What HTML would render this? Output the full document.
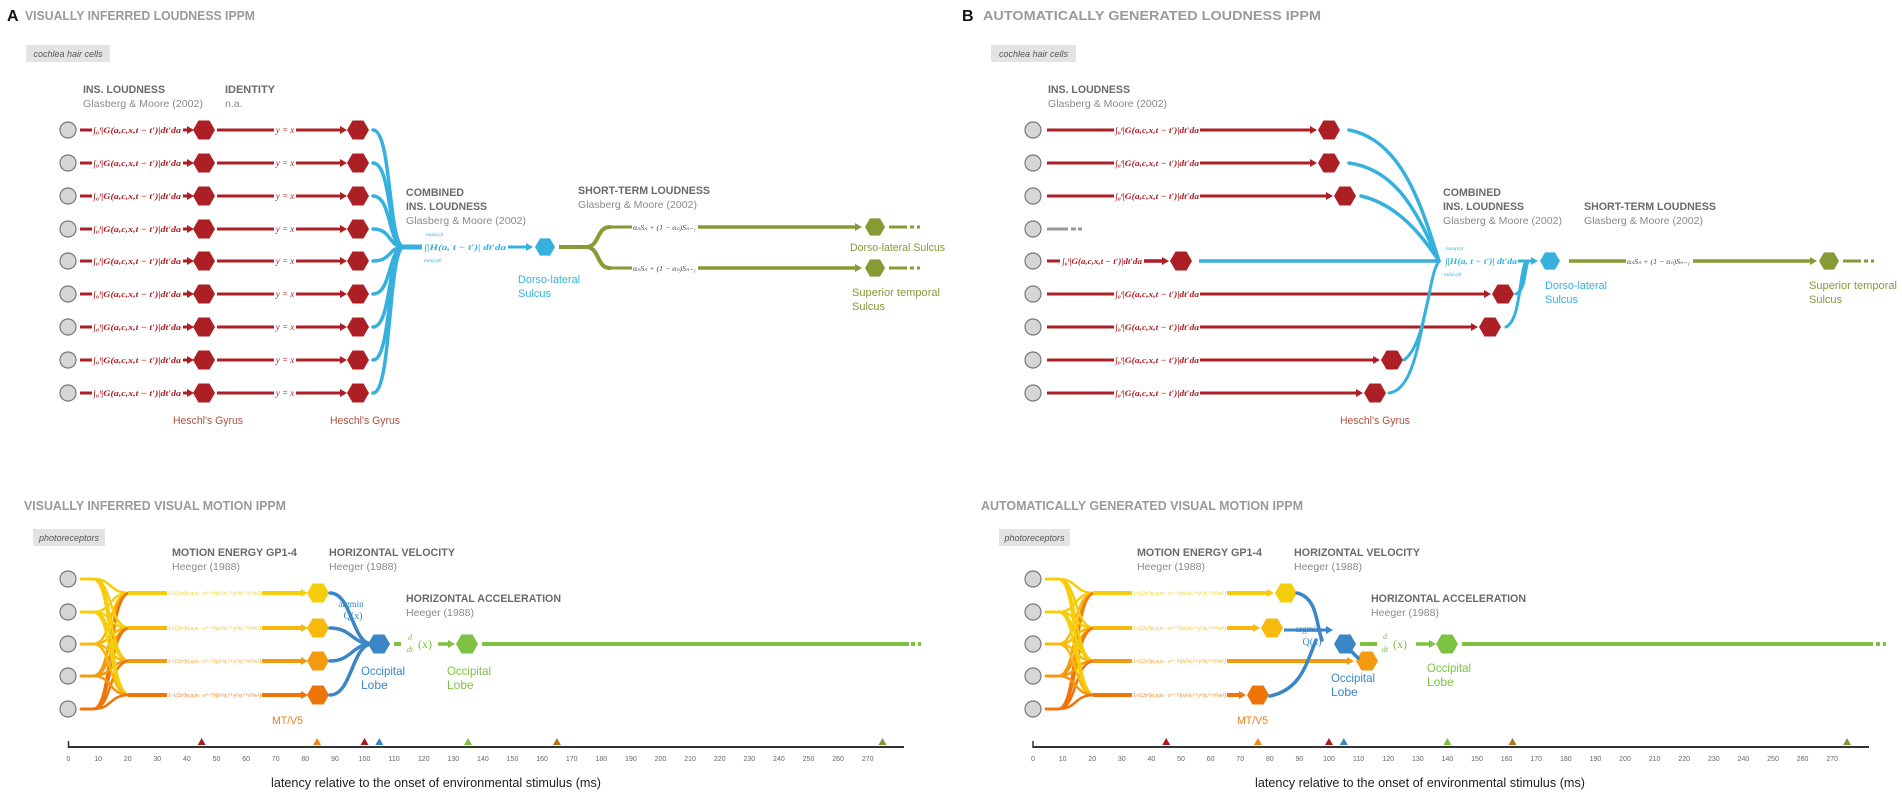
<!DOCTYPE html>
<html><head><meta charset="utf-8">
<style>
html,body{margin:0;padding:0;background:#fff;}
svg{display:block;font-family:"Liberation Sans",sans-serif;}
</style></head>
<body>
<svg id="fig" width="1902" height="797" viewBox="0 0 1902 797" xmlns="http://www.w3.org/2000/svg"></svg>
<script>
// ---- Axis data (latencies in ms) ----
const tickLabels = [0,10,20,30,40,50,60,70,80,90,100,110,120,130,140,150,160,170,180,190,200,210,220,230,240,250,260,270];
const markerLatA = [45,84,100,105,135,165,275];
const markerLatB = [45,76,100,105,140,162,275];
const markerColors = ['#a31f24','#f0861c','#a31f24','#3a86c6','#7dc242','#b5761f','#7f9a3a'];

const NS='http://www.w3.org/2000/svg';
const svg=document.getElementById('fig');
function el(tag,attrs,parent){const e=document.createElementNS(NS,tag);for(const k in attrs)e.setAttribute(k,attrs[k]);(parent||svg).appendChild(e);return e;}
function txt(x,y,s,size,color,opts,name){opts=opts||{};
  const t=el('text',{x:x,y:y,'font-size':size,fill:color});
  if(opts.bold)t.setAttribute('font-weight','bold');
  if(opts.italic)t.setAttribute('font-style','italic');
  if(opts.serif)t.setAttribute('font-family','"Liberation Serif",serif');
  if(opts.anchor)t.setAttribute('text-anchor',opts.anchor);
  if(opts.len){t.setAttribute('textLength',opts.len);t.setAttribute('lengthAdjust','spacingAndGlyphs');}
  t.textContent=s;
  
  
  return t;}
function hex(x,y,r,c,name){const h=r*0.86;
  const p=el('polygon',{points:[[x-r,y],[x-r/2,y-h],[x+r/2,y-h],[x+r,y],[x+r/2,y+h],[x-r/2,y+h]].map(a=>a.join(',')).join(' '),fill:c});
  
  
  return p;}
function line(x1,x2,y,c,w,name){const l=el('line',{x1:x1,y1:y,x2:x2,y2:y,stroke:c,'stroke-width':w||3});
  
  return l;}
function arrow(x1,x2,y,c,w,name){line(x1,x2-6,y,c,w,name);
  const a=el('polygon',{points:`${x2-7},${y-4} ${x2},${y} ${x2-7},${y+4}`,fill:c});
  
  }
function path(d,c,w,name){const p=el('path',{d:d,stroke:c,'stroke-width':w,fill:'none','stroke-linecap':'round'});
  
  return p;}
function circ(x,y,name){const c=el('circle',{cx:x,cy:y,r:8,fill:'#d6d6d6',stroke:'#777','stroke-width':1.2});
  
  }
function box(x,y,w,h,s){const r=el('rect',{x:x,y:y,width:w,height:h,fill:'#e3e3e3'});
  
  
  txt(x+w/2,y+12,s,9,'#555',{italic:true,anchor:'middle'},'source-label');}
function dashEnd(x,y,c,w){line(x,x+18,y,c,w,'continuation-dash');line(x+21,x+25,y,c,w,'continuation-dash');line(x+28,x+31,y,c,w,'continuation-dash');}
const RED='#ac2025',BLUEL='#36b1de',OLIVE='#869a36',BLUEM='#3a86c6',GREEN='#7dc242';
const YC=['#f5cd0a','#f6b90c','#f39a10','#ef7508'];
const FORM='∫₀ᵗ|G(a,c,x,t − t′)|dt′da';

// ---------- Titles ----------
txt(7,21,'A',16,'#111',{bold:true},'panel-a-letter');
txt(25,20,'VISUALLY INFERRED LOUDNESS IPPM',13,'#9a9a9a',{bold:true,len:230},'panel-a-top-title');
txt(962,21,'B',16,'#111',{bold:true},'panel-b-letter');
txt(983,20,'AUTOMATICALLY GENERATED LOUDNESS IPPM',13,'#9a9a9a',{bold:true,len:338},'panel-b-top-title');
txt(24,510,'VISUALLY INFERRED VISUAL MOTION IPPM',13,'#9a9a9a',{bold:true,len:262},'panel-a-bottom-title');
txt(981,510,'AUTOMATICALLY GENERATED VISUAL MOTION IPPM',13,'#9a9a9a',{bold:true,len:322},'panel-b-bottom-title');
box(26,45,84,17,'cochlea hair cells');
box(991,45,85,17,'cochlea hair cells');
box(33,529,72,17,'photoreceptors');
box(999,529,71,17,'photoreceptors');

function header(x,y,lines,boldLen,subLen){
  lines.forEach((s,i)=>{const last=i===lines.length-1;
    txt(x,y+i*14,s,last?10.5:11,last?'#8a8a8a':'#6a6a6a',{bold:!last,len:last?subLen:boldLen[i]},'stage-header');});}

// ---------- Panel A loudness ----------
const rows=[130,163,196,229,261,294,327,360,393];
header(83,93,['INS. LOUDNESS','Glasberg & Moore (2002)'],[82],120);
header(225,93,['IDENTITY','n.a.'],[50],null);
header(406,196,['COMBINED','INS. LOUDNESS','Glasberg & Moore (2002)'],[58,81],120);
header(578,194,['SHORT-TERM LOUDNESS','Glasberg & Moore (2002)'],[132],119);
rows.forEach(y=>{
  circ(68,y);
  line(80,92,y,RED,3);
  txt(93,y+3,FORM,8.5,RED,{italic:true,bold:true,serif:true,len:88},'loudness-formula');
  arrow(183,194,y,RED,3);
  hex(204,y,11,RED,'heschl-node');
  line(217,274,y,RED,3);
  txt(285,y+3,'y = x',9,RED,{italic:true,serif:true,anchor:'middle'},'identity-formula');
  arrow(296,347,y,RED,3);
  hex(358,y,11,RED,'heschl-node');
  path(`M373,${y} C392,${y} 388,247 404,247`,BLUEL,3.5,'combine-curve');
});
line(400,422,247,BLUEL,5);
txt(424,250,'∫|H(a, t − t′)| dt′da',8.5,BLUEL,{italic:true,bold:true,serif:true,len:82},'combined-formula');
txt(426,236,'max(a)τ',5.5,BLUEL,{italic:true,serif:true},'bound');
txt(424,262,'min(a)0',5.5,BLUEL,{italic:true,serif:true},'bound');
arrow(508,533,247,BLUEL,3);
hex(545,247,10,BLUEL,'dorsolateral-node');
txt(518,283,'Dorso-lateral',11,BLUEL,{len:62},'region-label');
txt(518,297,'Sulcus',11,BLUEL,{},'region-label');
line(559,588,247,OLIVE,4);
path('M586,247 C600,247 596,227 610,227','#869a36',4);
path('M586,247 C600,247 596,268 610,268','#869a36',4);
[227,268].forEach(y=>{line(608,632,y,OLIVE,3);
  txt(633,y+3,'αₙSₙ + (1 − αₙ)Sₙ₋₁',7.5,'#444',{italic:true,serif:true,len:63},'short-term-formula');
  arrow(698,862,y,OLIVE,3.5);hex(875,y,10,OLIVE,'short-term-node');dashEnd(889,y,OLIVE,3);});
txt(850,251,'Dorso-lateral Sulcus',11,OLIVE,{len:95},'region-label');
txt(852,296,'Superior temporal',11,OLIVE,{len:88},'region-label');
txt(852,310,'Sulcus',11,OLIVE,{},'region-label');
txt(173,424,"Heschl's Gyrus",11,'#b0503c',{len:70},'region-label');
txt(330,424,"Heschl's Gyrus",11,'#b0503c',{len:70},'region-label');

// ---------- Panel B loudness ----------
header(1048,93,['INS. LOUDNESS','Glasberg & Moore (2002)'],[82],119);
header(1443,196,['COMBINED','INS. LOUDNESS','Glasberg & Moore (2002)'],[58,81],119);
header(1584,210,['SHORT-TERM LOUDNESS','Glasberg & Moore (2002)'],[132],119);
const hexB=[1329,1329,1345,null,1181,1503,1490,1392,1375];
rows.forEach((y,i)=>{
  circ(1033,y);
  if(i===3){line(1047,1068,y,'#999',3,'gray-dash');line(1071,1076,y,'#999',3,'gray-dash');line(1078,1082,y,'#999',3,'gray-dash');return;}
  const hx=hexB[i];
  if(i===4){line(1047,1060,y,RED,3);
    txt(1062,y+3,FORM,8.5,RED,{italic:true,bold:true,serif:true,len:80},'loudness-formula');
    arrow(1144,1169,y,RED,3.5);}
  else{line(1047,1114,y,RED,3);
    txt(1115,y+3,FORM,8.5,RED,{italic:true,bold:true,serif:true,len:84},'loudness-formula');
    arrow(1200,hx-12,y,RED,3);}
  hex(hx,y,11,RED,'heschl-node');
});
path('M1349,130 C1400,140 1420,200 1439,261',BLUEL,3.5);
path('M1349,163 C1400,170 1420,220 1439,261',BLUEL,3.5);
path('M1361,196 C1400,205 1425,240 1439,261',BLUEL,3.5);
line(1199,1440,261,BLUEL,3.5);
path('M1389,393 C1415,390 1420,330 1428,300 C1432,280 1434,268 1439,261',BLUEL,3);
path('M1404,360 C1418,350 1424,320 1430,290',BLUEL,3);
path('M1506,327 C1520,320 1519,280 1525,263',BLUEL,3);
path('M1516,294 C1526,290 1524,270 1528,262',BLUEL,3);
txt(1445,264,'∫|H(a, t − t′)| dt′da',8.5,BLUEL,{italic:true,bold:true,serif:true,len:72},'combined-formula');
txt(1446,250,'max(a)τ',5.5,BLUEL,{italic:true,serif:true},'bound');
txt(1444,276,'min(a)0',5.5,BLUEL,{italic:true,serif:true},'bound');
arrow(1518,1538,261,BLUEL,3);
hex(1550,261,10,BLUEL,'dorsolateral-node');
txt(1545,289,'Dorso-lateral',11,BLUEL,{len:62},'region-label');
txt(1545,303,'Sulcus',11,BLUEL,{},'region-label');
line(1569,1626,261,OLIVE,3.5);
txt(1627,264,'αₙSₙ + (1 − αₙ)Sₙ₋₁',7.5,'#444',{italic:true,serif:true,len:63},'short-term-formula');
arrow(1693,1817,261,OLIVE,3.5);
hex(1829,261,10,OLIVE,'short-term-node');
dashEnd(1843,261,OLIVE,3);
txt(1809,289,'Superior temporal',11,OLIVE,{len:88},'region-label');
txt(1809,303,'Sulcus',11,OLIVE,{},'region-label');
txt(1340,424,"Heschl's Gyrus",11,'#b0503c',{len:70},'region-label');

// ---------- Motion panels ----------
const inY=[579,612,644,676,709], outY=[593,628,661,695];
function motion(ox,hexX,opts){
  header(ox+104,556,['MOTION ENERGY GP1-4','Heeger (1988)'],[125],68);
  header(ox+261,556,['HORIZONTAL VELOCITY','Heeger (1988)'],[126],68);
  header(ox+338,602,['HORIZONTAL ACCELERATION','Heeger (1988)'],[155],68);
  inY.forEach((y,i)=>{circ(ox,y);});
  outY.forEach((yo,j)=>{
    inY.forEach((yi,i)=>{path(`M${ox+13},${yi} H${ox+25} C${ox+45},${yi} ${ox+40},${yo} ${ox+62},${yo}`,YC[Math.min(3,Math.max(0,i-1))],2.5,'motion-bundle');});
  });
  outY.forEach((yo,j)=>{
    line(ox+60,ox+99,yo,YC[j],4);
    txt(ox+100,yo+2,'1/√(2π³)σₓσᵧσₜ · e^−½(x²/σₓ²+y²/σᵧ²+t²/σₜ²)',6.5,YC[j],{italic:true,serif:true,len:93},'motion-energy-formula');
  });
  txt(ox+204,724,'MT/V5',11,'#f07d1a',{len:31},'region-label');
}
motion(68,318);
outY.forEach((y,j)=>{arrow(262,308,y,YC[j],4);hex(318,y,11,YC[j],'mt-node');
  path(`M330,${y} C352,${y} 352,644 372,644`,BLUEM,3.5,'velocity-curve');});
txt(351,607,'argmin',9,BLUEM,{serif:true,anchor:'middle'},'argmin-label');
txt(353,619,'Q(x)',10,BLUEM,{serif:true,anchor:'middle'},'argmin-label');
hex(379,644,11,BLUEM,'occipital-velocity-node');
txt(361,675,'Occipital',12,BLUEM,{len:44},'region-label');
txt(361,689,'Lobe',12,BLUEM,{},'region-label');
line(394,401,644,GREEN,4);
txt(410,640,'d',8,GREEN,{italic:true,serif:true,anchor:'middle'},'derivative');
txt(410,652,'dt',8,GREEN,{italic:true,serif:true,anchor:'middle'},'derivative');
txt(418,648,'(x)',12,GREEN,{serif:true},'derivative');
arrow(438,455,644,GREEN,3.5);
hex(467,644,11,GREEN,'occipital-accel-node');
line(482,909,644,GREEN,4);
line(911,915,644,GREEN,4);line(918,921,644,GREEN,4);
txt(447,675,'Occipital',12,GREEN,{len:44},'region-label');
txt(447,689,'Lobe',12,GREEN,{},'region-label');

motion(1033,0);
const hxB=[1286,1272,1367,1258];
outY.forEach((y,j)=>{const end=j===2?1354:hxB[j]-12;arrow(1227,end,y,YC[j],4);hex(hxB[j],y,11,YC[j],'mt-node');});
path('M1297,593 C1318,598 1316,625 1322,640',BLUEM,3.5);
arrow(1284,1333,630,BLUEM,3);
path('M1270,696 C1300,690 1306,665 1316,640',BLUEM,3.5);
path('M1350,650 L1358,658',BLUEM,3.5);
txt(1308,632,'argmin',9,BLUEM,{serif:true,anchor:'middle'},'argmin-label');
txt(1312,645,'Q(x)',10,BLUEM,{serif:true,anchor:'middle'},'argmin-label');
hex(1345,644,11,BLUEM,'occipital-velocity-node');
txt(1331,682,'Occipital',12,BLUEM,{len:44},'region-label');
txt(1331,696,'Lobe',12,BLUEM,{},'region-label');
line(1360,1377,644,GREEN,4);
txt(1385,639,'d',8,GREEN,{italic:true,serif:true,anchor:'middle'},'derivative');
txt(1385,652,'dt',8,GREEN,{italic:true,serif:true,anchor:'middle'},'derivative');
txt(1393,648,'(x)',12,GREEN,{serif:true},'derivative');
arrow(1416,1436,644,GREEN,3.5);
hex(1447,644,11,GREEN,'occipital-accel-node');
line(1462,1873,644,GREEN,4);
line(1876,1880,644,GREEN,4);line(1883,1886,644,GREEN,4);
txt(1427,672,'Occipital',12,GREEN,{len:44},'region-label');
txt(1427,686,'Lobe',12,GREEN,{},'region-label');

// ---------- Latency axes ----------
function axis(x0,xEnd,markers,cx,tag){
  const pxPerMs=2.96;
  const sx=v=>x0+v*pxPerMs;
  const ax=el('line',{x1:x0,y1:747,x2:xEnd,y2:747,stroke:'#333','stroke-width':2});
  
  
  const tk=el('line',{x1:x0,y1:741,x2:x0,y2:748,stroke:'#333','stroke-width':1.5});
  
  
  tickLabels.forEach(v=>{txt(sx(v),761,String(v),7,'#666',{anchor:'middle'},'tick-label');});
  markers.forEach((v,i)=>{const x=sx(v);
    const m=el('polygon',{points:`${x-4},745 ${x},738 ${x+4},745`,fill:markerColors[i]});
    
    });
  txt(cx,787,'latency relative to the onset of environmental stimulus (ms)',13,'#222',{anchor:'middle',len:330},'x-axis-title');
}
axis(68.5,904,markerLatA,436,'a');
axis(1033,1869,markerLatB,1420,'b');
</script>
</body></html>
